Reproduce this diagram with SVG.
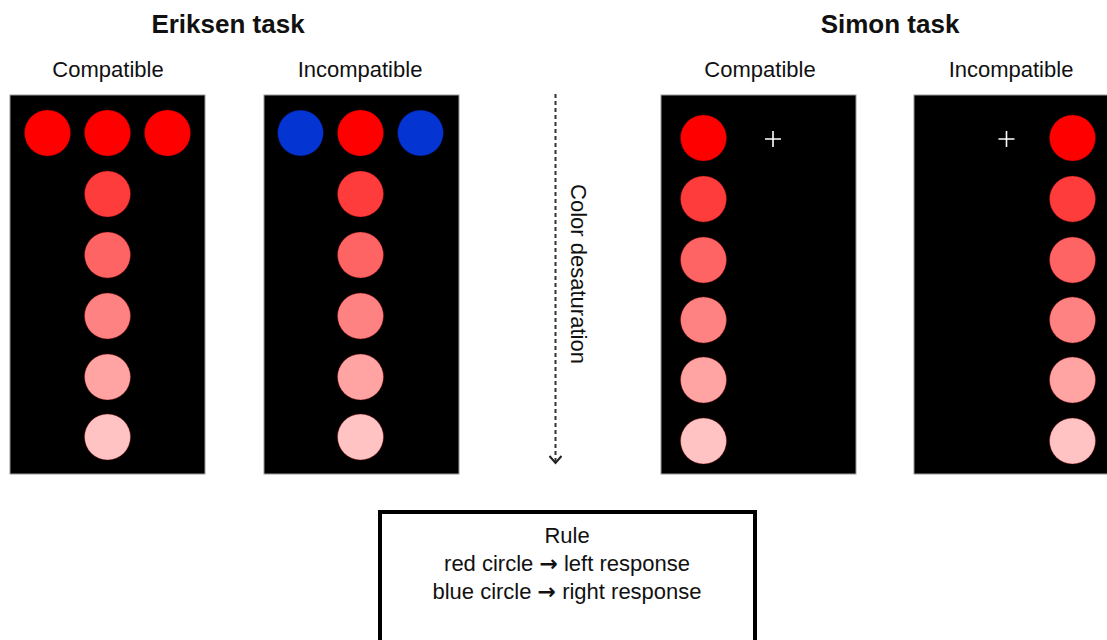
<svg xmlns="http://www.w3.org/2000/svg" width="1107" height="640" viewBox="0 0 1107 640">
<style>
.panel{fill:#000;stroke:#9a9a9a;stroke-width:1}
.title{font-family:"Liberation Sans",Arial,sans-serif;font-weight:bold;font-size:26px;fill:#111;text-anchor:middle}
.lbl{font-family:"Liberation Sans",Arial,sans-serif;font-size:22px;fill:#111;text-anchor:middle}
.arr{font-family:"DejaVu Sans",sans-serif;font-weight:bold}
.c{stroke-width:1;stroke-opacity:0.35;stroke:#800}
.c0{fill:#ff0000}
.c1{fill:#ff3c3c}
.c2{fill:#ff6464}
.c3{fill:#ff8282}
.c4{fill:#ffa3a3}
.c5{fill:#ffc3c3}
.blue{fill:#0434d2;stroke:#002;stroke-opacity:0.4;stroke-width:1}
.cross{stroke:#fff;stroke-width:1.6}
</style>
<rect width="1107" height="640" fill="#fff"/>
<text class="title" x="228" y="33">Eriksen task</text>
<text class="title" x="890" y="33">Simon task</text>

<g id="eriksen-compatible">
<text class="lbl" x="108" y="77">Compatible</text>
<rect class="panel" x="10" y="95" width="195" height="379"/>
<circle class="c c0" cx="47.5" cy="133" r="23"/>
<circle class="c c0" cx="107.5" cy="133" r="23"/>
<circle class="c c0" cx="167.5" cy="133" r="23"/>
<circle class="c c1" cx="107.5" cy="194" r="23"/>
<circle class="c c2" cx="107.5" cy="255" r="23"/>
<circle class="c c3" cx="107.5" cy="316" r="23"/>
<circle class="c c4" cx="107.5" cy="377" r="23"/>
<circle class="c c5" cx="107.5" cy="437" r="23"/>
</g>

<g id="eriksen-incompatible">
<text class="lbl" x="360" y="77">Incompatible</text>
<rect class="panel" x="264" y="95" width="195" height="379"/>
<circle class="blue" cx="300.5" cy="133" r="23"/>
<circle class="c c0" cx="360.5" cy="133" r="23"/>
<circle class="blue" cx="420.5" cy="133" r="23"/>
<circle class="c c1" cx="360.5" cy="194" r="23"/>
<circle class="c c2" cx="360.5" cy="255" r="23"/>
<circle class="c c3" cx="360.5" cy="316" r="23"/>
<circle class="c c4" cx="360.5" cy="377" r="23"/>
<circle class="c c5" cx="360.5" cy="437" r="23"/>
</g>

<g id="simon-compatible">
<text class="lbl" x="760" y="77">Compatible</text>
<rect class="panel" x="661" y="95" width="195" height="379"/>
<circle class="c c0" cx="703.5" cy="138" r="23"/>
<circle class="c c1" cx="703.5" cy="199" r="23"/>
<circle class="c c2" cx="703.5" cy="260" r="23"/>
<circle class="c c3" cx="703.5" cy="320" r="23"/>
<circle class="c c4" cx="703.5" cy="380" r="23"/>
<circle class="c c5" cx="703.5" cy="441" r="23"/>
<path class="cross" d="M765 139H781M773 131V147"/>
</g>

<g id="simon-incompatible">
<text class="lbl" x="1011" y="77">Incompatible</text>
<rect class="panel" x="914" y="95" width="195" height="379"/>
<circle class="c c0" cx="1072.5" cy="138" r="23"/>
<circle class="c c1" cx="1072.5" cy="199" r="23"/>
<circle class="c c2" cx="1072.5" cy="260" r="23"/>
<circle class="c c3" cx="1072.5" cy="320" r="23"/>
<circle class="c c4" cx="1072.5" cy="380" r="23"/>
<circle class="c c5" cx="1072.5" cy="441" r="23"/>
<path class="cross" d="M998.5 139H1014.5M1006.5 131V147"/>
</g>

<g id="connectors">
<line x1="555.5" y1="94" x2="555.5" y2="464" stroke="#333" stroke-width="2" stroke-dasharray="4 3"/>
<path d="M549.5 456L555.5 463L561.5 456" fill="none" stroke="#222" stroke-width="2"/>
</g>
<text class="lbl" transform="translate(571 274) rotate(90)">Color desaturation</text>

<g id="rule">
<rect x="380" y="512" width="375" height="140" fill="#fff" stroke="#000" stroke-width="4"/>
<text class="lbl" x="567" y="543">Rule</text>
<text class="lbl" x="567" y="571">red circle <tspan class="arr">→</tspan> left response</text>
<text class="lbl" x="567" y="599">blue circle <tspan class="arr">→</tspan> right response</text>
</g>
</svg>
